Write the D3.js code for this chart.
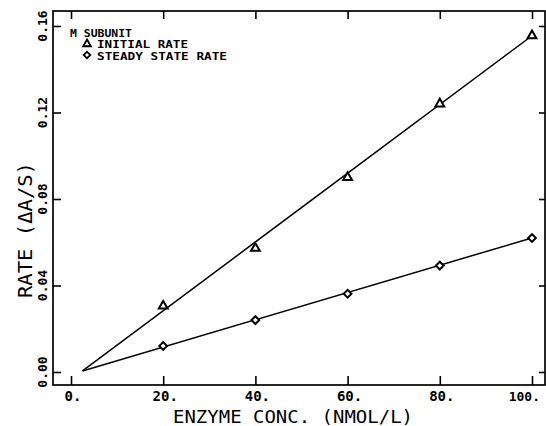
<!DOCTYPE html>
<html><head><meta charset="utf-8">
<script src="https://cdn.jsdelivr.net/npm/d3@7"></script>
<style>body{margin:0;background:#fff}svg{display:block}text{font-family:"DejaVu Sans Mono","Liberation Mono",monospace;fill:#000}</style>
</head><body><svg id="c" width="546" height="426"></svg>
<script>
const conc = [20, 40, 60, 80, 100];
const initialRate = [0.0305, 0.0572, 0.0900, 0.1240, 0.1555];
const steadyRate = [0.0120, 0.0240, 0.0362, 0.0492, 0.0620];
const fitX = [2.5, 100];
const initialFit = [0.0005, 0.1555];
const steadyFit = [0.0005, 0.0620];
const xTicks = [0, 20, 40, 60, 80, 100];
const xTickLabels = ["0.", "20.", "40.", "60.", "80.", "100."];
const yTicks = [0, 0.04, 0.08, 0.12, 0.16];
const yTickLabels = ["0.00", "0.04", "0.08", "0.12", "0.16"];
const legendTitle = "M SUBUNIT";
const seriesNames = ["INITIAL RATE", "STEADY STATE RATE"];

const svg = d3.select("#c");
const x = d3.scaleLinear().domain([0, 100]).range([71, 532]);
const y = d3.scaleLinear().domain([0, 0.16]).range([372, 26]);
const L = 53, R = 545, T = 11, B = 385;

svg.append("rect").attr("x", L).attr("y", T).attr("width", R - L).attr("height", B - T)
  .attr("fill", "none").attr("stroke", "#000").attr("stroke-width", 1.7);

const gB = svg.append("g").attr("transform", `translate(0,${B})`)
  .call(d3.axisBottom(x).tickValues(xTicks).tickSizeInner(-9).tickSizeOuter(0).tickFormat(""));
const gT = svg.append("g").attr("transform", `translate(0,${T})`)
  .call(d3.axisTop(x).tickValues(xTicks).tickSizeInner(-8).tickSizeOuter(0).tickFormat(""));
const gL = svg.append("g").attr("transform", `translate(${L},0)`)
  .call(d3.axisLeft(y).tickValues(yTicks).tickSizeInner(-8).tickSizeOuter(0).tickFormat(""));
const gR = svg.append("g").attr("transform", `translate(${R},0)`)
  .call(d3.axisRight(y).tickValues(yTicks).tickSizeInner(-6).tickSizeOuter(0).tickFormat(""));
[gB, gT, gL, gR].forEach(g => {
  g.select(".domain").remove();
  g.selectAll(".tick line").attr("stroke", "#000").attr("stroke-width", 1.6);
});

// x tick labels
const last = xTicks.length - 1;
svg.append("g").selectAll("text").data(xTicks).join("text")
  .attr("x", (d, i) => i === last ? 540 : x(d) + 2).attr("y", 401)
  .attr("text-anchor", (d, i) => i === last ? "end" : "middle")
  .attr("font-size", (d, i) => i === last ? 13 : 14).attr("font-weight", "bold")
  .text((d, i) => xTickLabels[i]);

// y tick labels rotated
svg.append("g").selectAll("text").data(yTicks).join("text")
  .attr("transform", d => `translate(47,${y(d)}) rotate(-90)`)
  .attr("text-anchor", "middle").attr("font-size", 13).attr("font-weight", "bold")
  .text((d, i) => yTickLabels[i]);

// axis titles
svg.append("text").attr("x", 293).attr("y", 423).attr("text-anchor", "middle")
  .attr("font-size", 18).attr("textLength", 240).attr("lengthAdjust", "spacingAndGlyphs")
  .text("ENZYME CONC. (NMOL/L)");
svg.append("text").attr("transform", "translate(32,230) rotate(-90)").attr("text-anchor", "middle")
  .attr("font-size", 19).attr("textLength", 136).attr("lengthAdjust", "spacingAndGlyphs")
  .text("RATE (ΔA/S)");

// fit lines
const line = d3.line().x(d => x(d[0])).y(d => y(d[1]));
[initialFit, steadyFit].forEach(f => {
  svg.append("path").attr("d", line(fitX.map((v, i) => [v, f[i]])))
    .attr("fill", "none").attr("stroke", "#000").attr("stroke-width", 1.5);
});

// markers
const tri = d3.symbol().type(d3.symbolTriangle).size(34);
const dia = d3.symbol().type(d3.symbolSquare).size(30);
svg.append("g").selectAll("path").data(conc.map((c, i) => [c, initialRate[i]])).join("path")
  .attr("d", tri).attr("transform", d => `translate(${x(d[0])},${y(d[1])})`)
  .attr("fill", "#fff").attr("stroke", "#000").attr("stroke-width", 2);
svg.append("g").selectAll("path").data(conc.map((c, i) => [c, steadyRate[i]])).join("path")
  .attr("d", dia).attr("transform", d => `translate(${x(d[0])},${y(d[1])}) rotate(45)`)
  .attr("fill", "#fff").attr("stroke", "#000").attr("stroke-width", 2);

// legend
const lg = svg.append("g");
lg.append("text").attr("x", 70).attr("y", 37).attr("font-size", 11).attr("font-weight", "bold")
  .attr("textLength", 62).attr("lengthAdjust", "spacingAndGlyphs").text(legendTitle);
lg.append("path").attr("d", d3.symbol().type(d3.symbolTriangle).size(26)).attr("transform", "translate(87,44)")
  .attr("fill", "#fff").attr("stroke", "#000").attr("stroke-width", 1.8);
lg.append("path").attr("d", d3.symbol().type(d3.symbolSquare).size(22)).attr("transform", "translate(87,55) rotate(45)")
  .attr("fill", "#fff").attr("stroke", "#000").attr("stroke-width", 1.8);
lg.append("text").attr("x", 97).attr("y", 48).attr("font-size", 11).attr("font-weight", "bold")
  .attr("textLength", 91).attr("lengthAdjust", "spacingAndGlyphs").text(seriesNames[0]);
lg.append("text").attr("x", 97).attr("y", 60).attr("font-size", 11).attr("font-weight", "bold")
  .attr("textLength", 130).attr("lengthAdjust", "spacingAndGlyphs").text(seriesNames[1]);
</script></body></html>
